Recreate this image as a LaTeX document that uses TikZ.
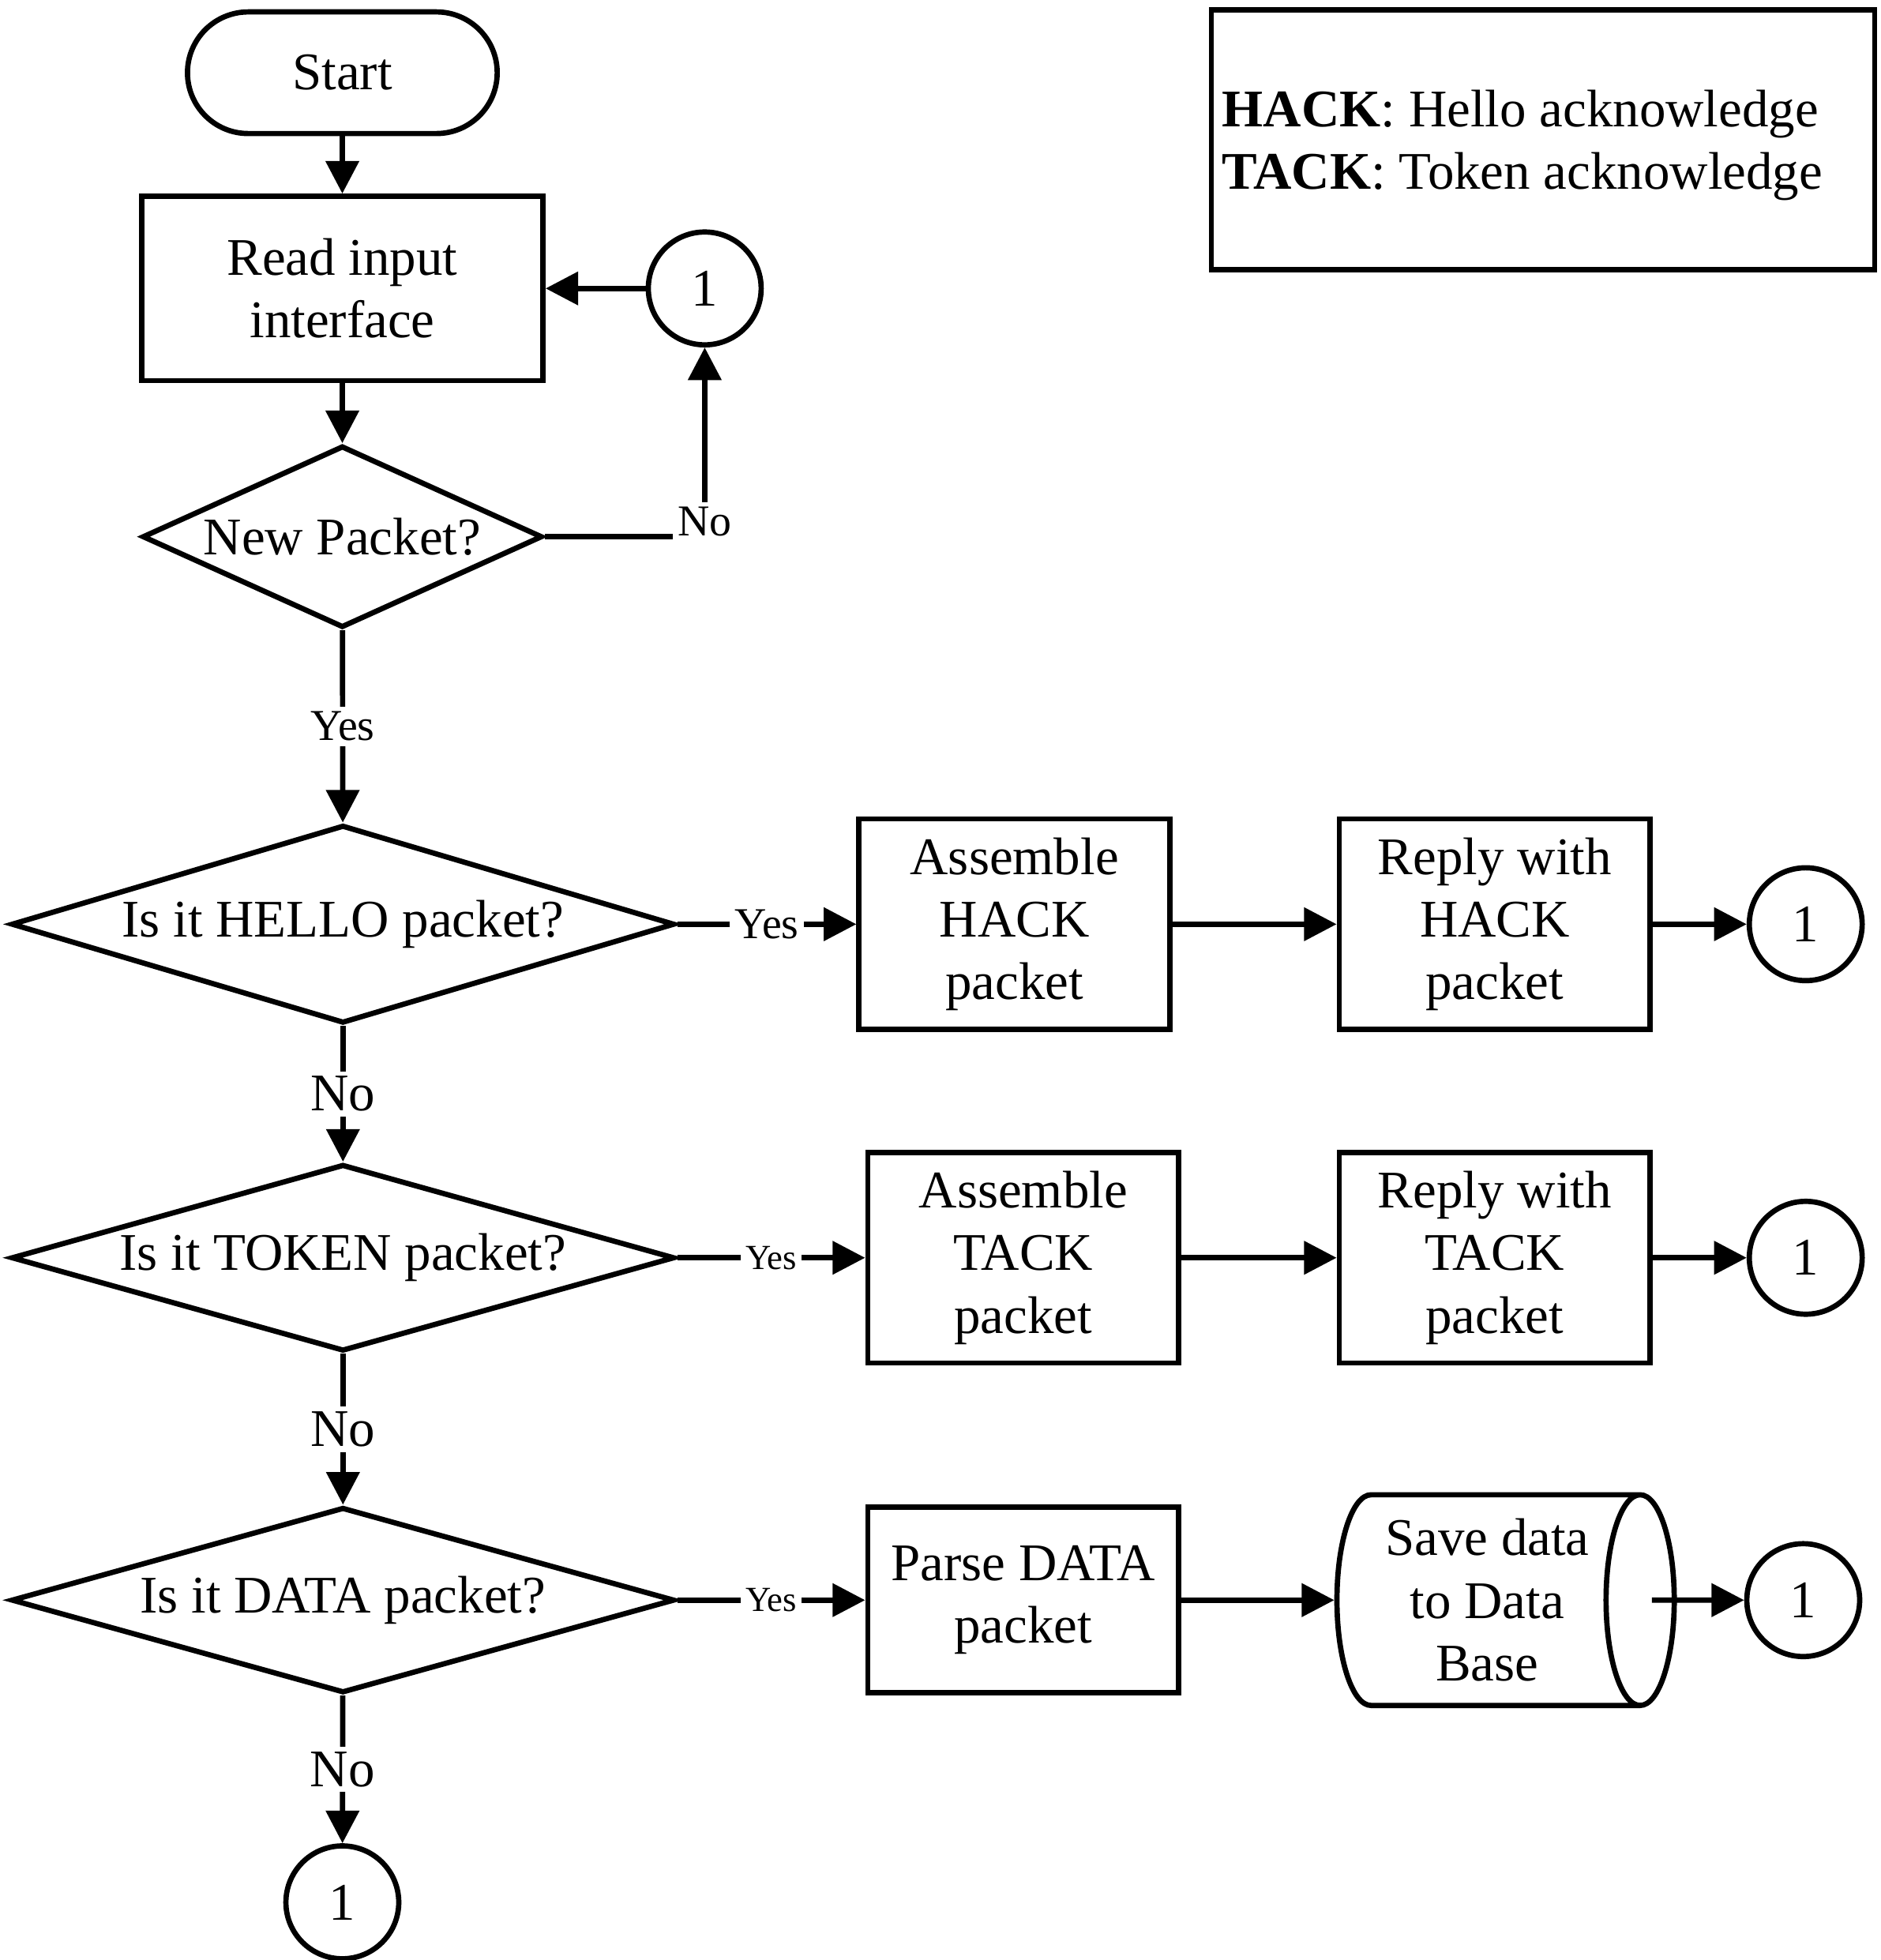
\documentclass[tikz,border=0pt]{standalone}
\usepackage{fontspec}
\setmainfont{Liberation Serif}
\usetikzlibrary{shapes.geometric,arrows.meta,calc}
\begin{document}
\begin{tikzpicture}[x=0.1mm,y=-0.1mm,
  every node/.style={font=\fontsize{12}{14.2}\selectfont},
  base/.style={draw, line width=1.2pt, align=center, inner sep=0pt},
  term/.style={base, rectangle, rounded corners=4.85mm, minimum width=24.7mm, minimum height=9.7mm},
  proc/.style={base, rectangle, minimum width=24.8mm, minimum height=16.8mm},
  dec/.style={base, diamond, aspect=3.4, minimum width=52.9mm, minimum height=14.9mm},
  conn/.style={base, circle, minimum size=9mm},
  store/.style={base, cylinder, aspect=0.42, minimum width=16.8mm, minimum height=26.9mm},
  arr/.style={line width=1.2pt, -{Triangle[length=2.6mm,width=2.6mm]}},
  lbl/.style={fill=white, inner sep=0.4mm},
  lbls/.style={lbl, font=\fontsize{8}{9}\selectfont},
  lblm/.style={lbl, font=\fontsize{10}{11}\selectfont},
]
\useasboundingbox (0,0) rectangle (1500,1563);

% nodes
\node[term] (start) at (273,58) {Start};
\node[base, rectangle, minimum width=32mm, minimum height=14.7mm] (read) at (273,230) {Read input\\interface};
\node[conn] (c0) at (562,230) {1};
\node[base, diamond, aspect=2.2, minimum width=31.9mm, minimum height=14.5mm] (np) at (273,428) {New Packet?};

\node[dec, minimum height=15.8mm] (hello) at (273.5,737) {Is it HELLO packet?};
\node[proc] (ah) at (809,737) {Assemble\\HACK\\packet};
\node[proc] (rh) at (1192,737) {Reply with\\HACK\\packet};
\node[conn] (c1) at (1440,737) {1};

\node[dec] (token) at (273.5,1003) {Is it TOKEN packet?};
\node[proc] (at) at (816,1003) {Assemble\\TACK\\packet};
\node[proc] (rt) at (1192,1003) {Reply with\\TACK\\packet};
\node[conn] (c2) at (1440,1003) {1};

\node[dec, minimum height=14.8mm] (data) at (273.5,1276) {Is it DATA packet?};
\node[proc, minimum height=14.8mm] (parse) at (816,1276) {Parse DATA\\packet};
\node[store] (save) at (1186,1276) {Save data\\to Data\\Base};
\node[conn] (c3) at (1438,1276) {1};

\node[conn] (c4) at (273,1517) {1};

\node[base, rectangle, minimum width=52.9mm, minimum height=20.7mm] (legend) at (1230.5,111.5) {};
\node[anchor=west, align=left, inner sep=0pt] (legtext) at (974,116)
  {\textbf{HACK}: Hello acknowledge\\\textbf{TACK}: Token acknowledge};

% connectors
\draw[arr] (start) -- (read);
\draw[arr] (read) -- (np);
\draw[arr] (c0) -- (read);
\draw[arr] (np.east) -| (c0.south);
\node[lblm] (lno) at (562,416) {No};

\draw[arr] (np) -- node[lblm] (lyes0) {Yes} (hello);
\draw[arr] (hello) -- node[lbl] (lno1) {No} (token);
\draw[arr] (token) -- node[lbl] (lno2) {No} (data);
\draw[arr] (data) -- node[lbl] (lno3) {No} (c4);

\draw[arr] (hello.east) -- node[lblm] (lyes1) {Yes} (ah.west);
\draw[arr] (token.east) -- node[lbls] (lyes2) {Yes} (at.west);
\draw[arr] (data.east) -- node[lbls] (lyes3) {Yes} (parse.west);

\draw[arr] (ah) -- (rh);
\draw[arr] (rh) -- (c1);
\draw[arr] (at) -- (rt);
\draw[arr] (rt) -- (c2);
\draw[arr] (parse.east) -- (parse.east -| save.west);
\coordinate (savein) at ($(save.east)+(-2.0mm,0)$);
\draw[arr] (savein) -- (c3.west);
\end{tikzpicture}
\end{document}
